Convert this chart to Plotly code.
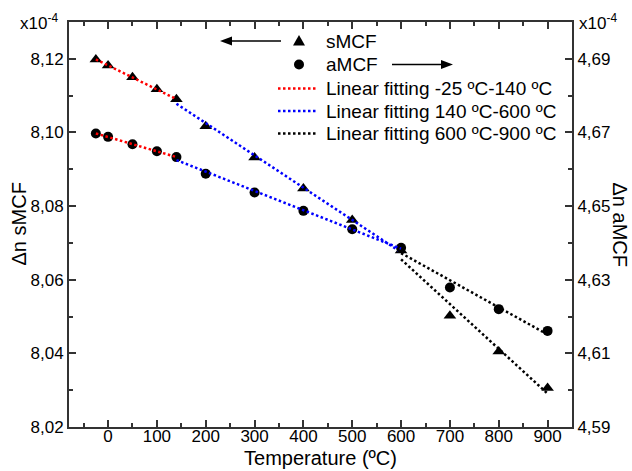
import numpy as np
import plotly.graph_objects as go

# ---- data ----
temperature = [-25, 0, 50, 100, 140, 200, 300, 400, 500, 600, 700, 800, 900]
smcf = [8.1198, 8.1182, 8.1150, 8.1117, 8.1090, 8.1017, 8.0932, 8.0848,
        8.0762, 8.0679, 8.0502, 8.0405, 8.0306]
amcf = [4.6697, 4.6688, 4.6668, 4.6649, 4.6633, 4.6588, 4.6537, 4.6487,
        4.6437, 4.6387, 4.6279, 4.6220, 4.6161]
fit_ranges = [(-25, 140), (140, 600), (600, 900)]
fit_names = ["Linear fitting -25 ºC-140 ºC",
             "Linear fitting 140 ºC-600 ºC",
             "Linear fitting 600 ºC-900 ºC"]
fit_colors = ["#ff0000", "#0000ff", "#000000"]
series_names = ["sMCF", "aMCF"]
x_ticks = [0, 100, 200, 300, 400, 500, 600, 700, 800, 900]

FONT = "Liberation Sans, Arial, sans-serif"
AX = "#333333"
DASH = "2.5px,2.5px"

W, H = 632, 471
ML, MR, MT, MB = 69, 60, 22, 44
PW, PH = W - ML - MR, H - MT - MB


def px(x):
    return (x - ML) / PW


def py(y):
    return 1 - (y - MT) / PH


fig = go.Figure()
fig.add_trace(go.Scatter(x=temperature, y=smcf, mode="markers", name=series_names[0],
                         marker=dict(symbol="triangle-up", size=11, color="black"),
                         yaxis="y", showlegend=False))
fig.add_trace(go.Scatter(x=temperature, y=amcf, mode="markers", name=series_names[1],
                         marker=dict(symbol="circle", size=10, color="black"),
                         yaxis="y2", showlegend=False))

t = np.array(temperature, dtype=float)
for (lo, hi), name, col in zip(fit_ranges, fit_names, fit_colors):
    m = (t >= lo) & (t <= hi)
    xs = np.array([lo, hi], dtype=float)
    for arr, ax in ((smcf, "y"), (amcf, "y2")):
        a = np.array(arr)[m]
        p = np.polyfit(t[m], a, 1)
        fig.add_trace(go.Scatter(x=xs, y=np.polyval(p, xs), mode="lines",
                                 name=name, showlegend=False,
                                 line=dict(color=col, width=2.5, dash=DASH),
                                 yaxis=ax))

axis_common = dict(showgrid=False, zeroline=False, showline=True, linecolor=AX,
                   linewidth=2, ticks="inside", ticklen=7, tickwidth=1.5,
                   automargin=False,
                   tickcolor=AX, tickfont=dict(size=17, color="black", family=FONT))

fig.update_layout(
    width=W, height=H,
    margin=dict(l=ML, r=MR, t=MT, b=MB, autoexpand=False),
    paper_bgcolor="white", plot_bgcolor="white",
    separators=",.",
    font=dict(family=FONT, color="black"),
    showlegend=False,
    xaxis=dict(range=[-80, 950], tickvals=x_ticks, mirror="ticks",
               ticklabelstandoff=-7,
               minor=dict(dtick=50, tick0=0, ticks="inside", ticklen=4,
                          tickcolor=AX, tickwidth=1.5),
               title=dict(text="Temperature (ºC)", font=dict(size=20), standoff=6),
               **axis_common),
    yaxis=dict(range=[8.01999, 8.13], tick0=8.02, dtick=0.02, tickformat=".2f",
               minor=dict(dtick=0.01, tick0=8.02, ticks="inside", ticklen=4,
                          tickcolor=AX, tickwidth=1.5),
               **axis_common),
    yaxis2=dict(range=[4.58999, 4.70], tick0=4.59, dtick=0.02, tickformat=".2f",
                overlaying="y", side="right",
                minor=dict(dtick=0.01, tick0=4.59, ticks="inside", ticklen=4,
                           tickcolor=AX, tickwidth=1.5),
                **axis_common),
)

# axis titles for the two y axes (left reads upward, right reads downward)
fig.add_annotation(xref="paper", yref="paper", x=px(18), y=0.5, xanchor="center",
                   yanchor="middle", showarrow=False, textangle=-90,
                   text="Δn sMCF", font=dict(size=20))
fig.add_annotation(xref="paper", yref="paper", x=px(620), y=0.5, xanchor="center",
                   yanchor="middle", showarrow=False, textangle=90,
                   text="Δn aMCF", font=dict(size=20))

# multiplier labels
for xl in (18, 577):
    fig.add_annotation(xref="paper", yref="paper", x=px(xl), y=py(22), xanchor="left",
                       yanchor="middle", showarrow=False,
                       text="x10<sup>-4</sup>", font=dict(size=17))

# ---- hand-built legend (matches the reference row spacing) ----
LEG_SYM_X = 299      # symbol centre (px)
LEG_LINE = (278, 316)
LEG_TEXT_X = 324
rows_y = [41, 64.5, 88.5, 111, 133.5]
labels = series_names + fit_names

for yy, lab in zip(rows_y, labels):
    fig.add_annotation(xref="paper", yref="paper", x=px(LEG_TEXT_X), y=py(yy),
                       xanchor="left", yanchor="middle", showarrow=False,
                       text=lab, font=dict(size=19))

# triangle symbol
cx, cy = LEG_SYM_X, rows_y[0]
tri = (f"M{px(cx - 6)},{py(cy + 4.5)} L{px(cx + 6)},{py(cy + 4.5)} "
       f"L{px(cx)},{py(cy - 6)} Z")
fig.add_shape(type="path", xref="paper", yref="paper", path=tri,
              fillcolor="black", line=dict(width=0))
# circle symbol
cy = rows_y[1]
fig.add_shape(type="circle", xref="paper", yref="paper",
              x0=px(LEG_SYM_X - 5), x1=px(LEG_SYM_X + 5),
              y0=py(cy + 5), y1=py(cy - 5), fillcolor="black", line=dict(width=0))
# dotted line samples
for yy, col in zip(rows_y[2:], fit_colors):
    fig.add_shape(type="line", xref="paper", yref="paper",
                  x0=px(LEG_LINE[0]), x1=px(LEG_LINE[1]), y0=py(yy), y1=py(yy),
                  line=dict(color=col, width=2.5, dash=DASH))


# arrows (left arrow -> left axis, right arrow -> right axis)
def arrow(x_tail, x_tip, yy):
    d = 1 if x_tip > x_tail else -1
    base = x_tip - d * 12
    fig.add_shape(type="line", xref="paper", yref="paper",
                  x0=px(x_tail), x1=px(base), y0=py(yy), y1=py(yy),
                  line=dict(color="black", width=1.6))
    path = (f"M{px(x_tip)},{py(yy)} L{px(base)},{py(yy - 4.5)} "
            f"L{px(base)},{py(yy + 4.5)} Z")
    fig.add_shape(type="path", xref="paper", yref="paper", path=path,
                  fillcolor="black", line=dict(width=0))


arrow(281, 220, rows_y[0])
arrow(392, 453, rows_y[1])

# remove the browser's default 8px body margin so the figure sits at (0, 0)
fig.write_html("out.html", config={"displayModeBar": False},
               post_script="document.body.style.margin='0px';")
